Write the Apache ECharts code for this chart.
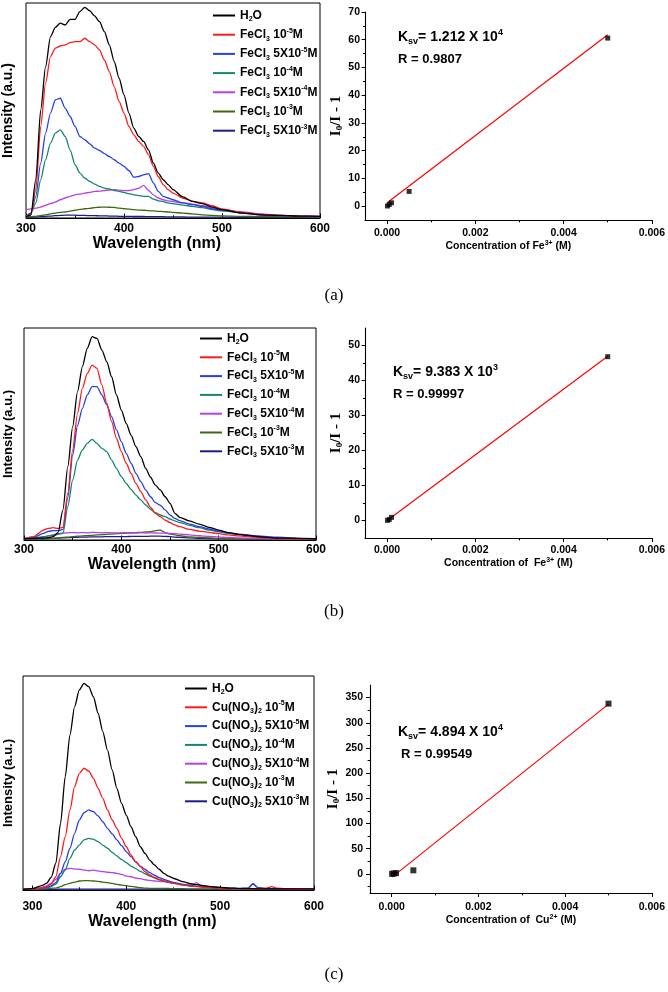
<!DOCTYPE html>
<html><head><meta charset="utf-8">
<script src="https://cdn.jsdelivr.net/npm/echarts@6/dist/echarts.min.js"></script>
<style>html,body{margin:0;padding:0;background:#fff}#c{width:668px;height:992px}</style>
</head><body><div id="c"></div>
<script>
// ---------- DATA ----------
const wavelengthA = [300,305,310,315,320,325,330,335,340,345,350,355,360,365,370,375,380,385,390,395,400,405,410,415,420,425,430,435,440,445,450,460,470,480,490,500,520,540,560,580,600];
const aH2O   = [0.5,1.5,17.8,50.3,70.4,84.4,88.7,90.6,89.8,92.4,92.4,96.0,98.0,96.4,94.0,91.3,86.7,80.5,72.8,65.0,57.3,48.8,41.8,37.9,35.6,31.7,25.5,20.9,17.8,15.5,13.2,9.8,7.7,6.7,5.1,3.9,2.3,1.5,1.2,0.9,0.8];
const aFe1e5 = [0.5,1.5,13.2,42.6,62.7,75.1,79.0,80.0,80.5,81.6,82.0,82.0,83.6,82.0,80.5,78.2,73.5,68.1,61.1,54.2,48.8,42.6,38.7,35.6,33.3,29.4,24.0,19.3,15.5,13.2,11.6,9.3,7.7,7.0,5.7,4.2,2.6,1.7,1.2,0.9,0.8];
const aFe5e5 = [0.5,2.3,10.1,25.5,39.5,48.8,55.0,55.7,51.1,47.2,42.6,37.9,36.4,34.5,32.5,31.4,29.9,28.6,27.1,25.5,24.0,22.1,19.0,19.3,20.1,20.6,16.3,12.4,10.1,9.3,8.5,7.0,6.2,5.4,4.2,3.6,2.6,1.5,1.1,0.8,0.6];
const aFe1e4 = [0.8,2.3,7.0,17.8,27.1,34.8,39.5,41.0,37.9,31.7,24.8,20.9,18.6,17.0,15.8,14.7,13.9,13.5,12.8,12.4,11.9,11.3,10.8,10.4,10.1,10.1,8.8,8.0,7.6,7.0,6.7,6.0,5.4,4.8,3.9,3.3,2.3,1.5,1.1,0.8,0.6];
const aFe5e4 = [3.9,4.2,4.6,5.1,5.9,6.7,7.4,8.5,9.3,10.1,10.8,11.1,11.6,11.9,12.4,12.5,12.8,13.0,13.2,13.0,12.7,12.8,13.2,13.9,15.2,12.8,10.8,9.3,8.5,8.0,7.6,7.0,6.5,5.7,4.6,3.9,2.8,1.9,1.2,0.9,0.8];
const aFe1e3 = [0.5,0.6,0.8,1.1,1.5,1.9,2.3,2.6,2.8,3.2,3.6,4.0,4.3,4.5,4.8,5.0,5.1,5.0,4.9,4.6,4.3,4.1,3.9,3.7,3.6,3.4,3.3,3.1,3.0,2.8,2.6,2.3,1.9,1.5,1.2,1.0,0.8,0.6,0.6,0.5,0.5];
const aFe5e3 = [0.3,0.4,0.5,0.6,0.8,0.9,1.1,1.2,1.3,1.3,1.3,1.2,1.2,1.1,1.1,1.0,1.0,0.9,0.9,0.8,0.8,0.8,0.7,0.7,0.7,0.6,0.6,0.6,0.6,0.5,0.5,0.5,0.4,0.4,0.4,0.4,0.3,0.3,0.3,0.3,0.3];

const wavelengthB = [300,310,320,325,330,335,340,345,350,355,360,365,370,375,380,385,390,395,400,405,410,415,420,425,430,435,440,445,450,455,460,470,480,490,500,510,520,540,560,580,600];
const bH2O   = [0.6,0.8,0.9,1.1,1.6,3.5,14.2,34.6,53.5,70.0,81.8,90.4,95.9,95.1,89.6,84.1,77.0,68.4,61.3,55.0,49.5,44.0,39.3,33.8,29.6,25.9,23.6,20.4,17.3,12.6,10.7,9.0,7.5,6.0,4.7,3.5,2.7,1.6,0.9,0.8,0.6];
const bFe1e5 = [0.6,1.6,4.7,5.5,5.8,5.5,6.0,22.0,42.5,59.7,71.5,78.6,82.5,81.0,73.1,64.5,55.8,48.0,41.7,36.2,31.4,26.7,22.8,18.9,15.4,12.6,11.0,9.4,8.2,7.1,6.3,5.0,4.2,3.6,3.0,2.4,1.9,1.3,0.8,0.6,0.5];
const bFe5e5 = [0.6,1.3,3.1,4.1,4.4,4.4,5.0,20.0,40.0,54.0,62.1,68.4,72.3,72.3,68.4,63.7,58.2,51.9,46.4,40.9,36.2,31.4,27.5,23.6,20.4,17.6,16.4,14.2,11.8,10.2,9.1,7.5,6.3,5.2,4.2,3.5,2.8,1.9,1.3,0.9,0.6];
const bFe1e4 = [0.6,0.9,1.6,1.9,2.2,2.7,3.1,15.7,28.3,37.7,42.5,45.6,47.5,45.6,43.2,41.7,37.7,33.8,29.9,26.7,23.9,21.2,18.9,16.5,14.5,12.9,11.8,11.0,9.9,9.0,8.2,6.9,5.8,4.7,3.9,3.1,2.5,1.7,1.1,0.8,0.6];
const bFe5e4 = [0.6,0.9,1.3,1.9,2.5,3.0,3.3,3.4,3.5,3.4,3.5,3.4,3.6,3.5,3.4,3.5,3.4,3.3,3.4,3.5,3.4,3.3,3.4,3.3,3.4,3.3,3.2,3.3,3.1,3.0,2.8,2.4,2.0,1.7,1.4,1.2,1.0,0.8,0.6,0.5,0.4];
const bFe1e3 = [0.4,0.5,0.6,0.7,0.8,1.0,1.2,1.4,1.6,1.8,1.9,2.1,2.2,2.4,2.5,2.7,2.8,3.0,3.1,3.2,3.3,3.5,3.6,3.8,3.9,4.4,4.7,3.5,2.8,2.4,2.0,1.5,1.2,1.0,0.8,0.6,0.5,0.5,0.4,0.4,0.4];
const bFe5e3 = [0.4,0.5,0.6,0.7,0.8,0.9,1.0,1.1,1.2,1.3,1.4,1.4,1.5,1.5,1.5,1.6,1.6,1.6,1.6,1.6,1.7,1.7,1.7,1.7,1.8,1.8,1.8,1.7,1.6,1.4,1.2,1.0,0.8,0.7,0.6,0.5,0.5,0.4,0.3,0.3,0.3];

const wavelengthC = [290,300,310,315,320,325,330,335,340,345,350,355,360,365,370,375,380,385,390,395,400,405,410,415,420,425,430,435,440,445,450,460,470,475,480,490,500,510,520,530,535,540,550,555,560,570,580,590,600];
const cH2O   = [0.3,0.6,2.0,3.1,5.9,12.5,31.2,53.0,72.4,85.7,93.5,96.6,95.0,90.3,82.6,74.0,65.4,56.1,47.5,40.5,35.0,29.6,24.9,20.2,17.1,14.0,11.7,9.7,7.8,6.5,5.5,3.9,2.8,2.5,2.2,1.6,1.2,0.9,0.8,0.6,0.6,0.5,0.5,0.5,0.5,0.5,0.5,0.5,0.5];
const cCu1e5 = [0.3,0.5,0.9,1.6,2.8,6.2,15.6,24.9,37.4,48.3,54.5,56.9,55.6,52.2,47.5,42.8,37.4,32.7,28.8,24.1,20.2,16.4,13.2,10.9,8.6,7.0,5.9,5.0,4.2,3.6,3.1,2.3,1.7,1.6,1.4,1.1,0.8,0.6,0.6,0.5,0.5,0.5,0.9,1.6,0.9,0.5,0.3,0.3,0.3];
const cCu5e5 = [0.3,0.5,0.8,1.2,1.9,3.4,7.8,13.2,19.5,26.5,32.7,36.1,37.4,36.6,34.6,31.9,28.8,26.2,23.4,20.7,17.9,15.6,13.2,11.2,9.7,8.1,6.9,5.8,5.0,4.2,3.6,2.6,2.0,1.7,1.6,1.2,0.9,0.8,0.6,0.9,2.8,1.1,0.6,0.5,0.5,0.5,0.4,0.3,0.3];
const cCu1e4 = [0.3,0.5,0.6,0.9,1.6,2.8,6.2,9.3,14.8,18.7,21.0,23.4,24.1,23.7,22.6,21.0,19.5,17.6,15.9,14.3,12.8,11.2,10.0,8.7,7.6,6.5,5.6,4.8,4.2,3.7,3.3,2.5,1.9,1.7,1.6,1.2,0.9,0.8,0.6,0.9,3.1,1.2,0.6,0.5,0.5,0.5,0.4,0.3,0.3];
const cCu5e4 = [0.3,0.6,1.2,1.9,3.1,5.0,7.8,9.7,10.1,9.8,9.7,9.3,9.0,9.3,8.9,8.6,8.3,8.1,7.8,7.3,6.5,6.2,5.6,5.3,4.8,4.5,4.2,4.0,3.9,3.6,3.3,2.6,2.2,3.4,1.7,1.2,0.9,0.8,0.6,0.5,0.5,0.5,0.5,0.5,0.5,0.5,0.4,0.4,0.3];
const cCu1e3 = [0.3,0.3,0.5,0.6,0.8,0.9,1.6,2.5,3.1,3.7,4.2,4.4,4.4,4.2,4.0,3.7,3.4,3.1,2.6,2.3,2.0,1.7,1.4,1.1,0.9,0.8,0.8,0.8,0.7,0.7,0.6,0.6,0.5,0.5,0.5,0.5,0.5,0.4,0.4,0.4,0.4,0.4,0.4,0.4,0.4,0.3,0.3,0.3,0.3];
const cCu5e3 = [0.3,0.3,0.3,0.3,0.3,0.3,0.4,0.4,0.4,0.4,0.4,0.4,0.4,0.4,0.4,0.4,0.4,0.4,0.4,0.4,0.4,0.4,0.4,0.4,0.4,0.4,0.4,0.4,0.4,0.3,0.3,0.3,0.3,0.3,0.3,0.3,0.3,0.3,0.3,0.3,0.3,0.3,0.3,0.3,0.3,0.3,0.3,0.3,0.3];

const namesFe = ['H_{2}O','FeCl_{3} 10^{-5}M','FeCl_{3} 5X10^{-5}M','FeCl_{3} 10^{-4}M','FeCl_{3} 5X10^{-4}M','FeCl_{3} 10^{-3}M','FeCl_{3} 5X10^{-3}M'];
const namesCu = ['H_{2}O','Cu(NO_{3})_{2} 10^{-5}M','Cu(NO_{3})_{2} 5X10^{-5}M','Cu(NO_{3})_{2} 10^{-4}M','Cu(NO_{3})_{2} 5X10^{-4}M','Cu(NO_{3})_{2} 10^{-3}M','Cu(NO_{3})_{2} 5X10^{-3}M'];
const seriesColors = ['#000000','#ff1a1a','#2442e6','#13866f','#b840e6','#3d6a10','#1c1c8e'];

// Stern-Volmer data
const concA = [0.00001,0.00005,0.0001,0.0005,0.005];
const quenchA = [0.05,0.6,1.2,5.3,60.6];
const fitAx = [0.00001,0.005];
const fitAy = [1.3,61.8];
const concB = [0.00001,0.00005,0.0001,0.005];
const quenchB = [0.05,0.3,0.9,46.8];
const fitBx = [0.00001,0.005];
const fitBy = [0.1,46.9];
const concC = [0.00001,0.00005,0.0001,0.0005,0.005];
const quenchC = [0.0,0.8,1.5,7.0,338];
const fitCx = [0.00001,0.005];
const fitCy = [-6.5,337];

const wlTicks = [300,400,500,600];
const wlMinor = [350,450,550];
const concTicks = [0,0.002,0.004,0.006];
const concMinor = [0.001,0.003,0.005];
const yTicksA = [0,10,20,30,40,50,60,70];
const yMinorA = [5,15,25,35,45,55,65];
const yTicksB = [0,10,20,30,40,50];
const yMinorB = [5,15,25,35,45];
const yTicksC = [0,50,100,150,200,250,300,350];
const yMinorC = [-25,25,75,125,175,225,275,325];

// ---------- CHART ----------
const SANS = 'Liberation Sans, Arial, sans-serif';
const SERIF = 'Liberation Serif, Times New Roman, serif';
function toRich(s, base) {
  return ('{' + base + '|' + s.replace(/_\{([^}]*)\}/g, '}{sub|$1}{' + base + '|').replace(/\^\{([^}]*)\}/g, '}{sup|$1}{' + base + '|') + '}').replace(new RegExp('\\{' + base + '\\|\\}', 'g'), '');
}
function richSet(size, lh, family) {
  const f = family || SANS;
  return {
    t: {fontFamily: f, fontWeight: 'bold', fontSize: size, lineHeight: lh, color: '#000'},
    sub: {fontFamily: f, fontWeight: 'bold', fontSize: Math.round(size * 0.62), lineHeight: Math.round(size * 0.62), verticalAlign: 'bottom', color: '#000'},
    sup: {fontFamily: f, fontWeight: 'bold', fontSize: Math.round(size * 0.62), lineHeight: Math.round(size * 0.62), verticalAlign: 'top', color: '#000'}
  };
}

const grids = [
  {left: 26, top: 3, width: 294, height: 215},
  {left: 24, top: 328, width: 292, height: 212},
  {left: 23, top: 676, width: 291, height: 214},
  {left: 365, top: 12, width: 288, height: 208},
  {left: 365, top: 328, width: 288, height: 210},
  {left: 370, top: 685, width: 285, height: 208}
].map((g, i) => Object.assign(g, i < 3 ? {show: true, borderColor: '#000', borderWidth: 1, backgroundColor: 'transparent'} : {}));

function mkX(gi, min, max, ticks, minor, o) {
  const main = {
    type: 'value', gridIndex: gi, min: min, max: max, position: 'bottom',
    axisLine: {show: true, onZero: false, lineStyle: {color: '#000', width: 1.1}},
    axisTick: {show: true, inside: o.inside, length: o.tl, customValues: ticks, lineStyle: {color: '#000'}},
    axisLabel: {show: true, customValues: ticks, margin: o.margin, color: '#000', fontFamily: SANS, fontWeight: 'bold', fontSize: o.fs, formatter: o.fmt, showMinLabel: true, showMaxLabel: true},
    splitLine: {show: false},
    name: o.name, nameLocation: 'middle', nameGap: o.nameGap,
    nameTextStyle: {color: '#000', fontFamily: o.nameFont || SANS, fontWeight: 'bold', fontSize: o.nameSize, padding: o.namePad || 0, rich: o.nameRich}
  };
  const mnr = {
    type: 'value', gridIndex: gi, min: min, max: max, position: 'bottom',
    axisLine: {show: false, onZero: false},
    axisTick: {show: true, inside: o.inside, length: o.tl * 0.6, customValues: minor, lineStyle: {color: '#000'}},
    axisLabel: {show: false}, splitLine: {show: false}
  };
  return [main, mnr];
}
const fmtConc = v => Number(v).toFixed(3);
const fmtWl = v => String(Math.round(v));

const xAxes = [].concat(
  mkX(0, 300, 600, wlTicks, wlMinor, {inside: true, tl: 4.5, margin: 5, fs: 12, fmt: fmtWl, name: 'Wavelength (nm)', nameGap: 14, nameSize: 16, namePad: [0, 32, 0, 0]}),
  mkX(1, 300, 600, wlTicks, wlMinor, {inside: true, tl: 4.5, margin: 4, fs: 12, fmt: fmtWl, name: 'Wavelength (nm)', nameGap: 15, nameSize: 16, namePad: [0, 36, 0, 0]}),
  mkX(2, 290, 600, wlTicks, wlMinor, {inside: true, tl: 4.5, margin: 11, fs: 12, fmt: fmtWl, name: 'Wavelength (nm)', nameGap: 22, nameSize: 16, namePad: [0, 32, 0, 0]}),
  mkX(3, -0.0005, 0.006, concTicks, concMinor, {inside: false, tl: 4, margin: 8, fs: 10.5, fmt: fmtConc, name: toRich('Concentration of Fe^{3+} (M)', 't'), nameGap: 19, nameSize: 10.5, nameRich: richSet(10.5, 13)}),
  mkX(4, -0.0005, 0.006, concTicks, concMinor, {inside: false, tl: 4, margin: 7, fs: 10.5, fmt: fmtConc, name: toRich('Concentration of  Fe^{3+} (M)', 't'), nameGap: 18, nameSize: 10.5, nameRich: richSet(10.5, 13)}),
  mkX(5, -0.0005, 0.006, concTicks, concMinor, {inside: false, tl: 4, margin: 9, fs: 10.5, fmt: fmtConc, name: toRich('Concentration of  Cu^{2+} (M)', 't'), nameGap: 20, nameSize: 10.5, nameRich: richSet(10.5, 13)})
);

function leftY(gi, gap, fs) {
  return {
    type: 'value', gridIndex: gi, min: 0, max: 100, position: 'left',
    axisLine: {show: false}, axisTick: {show: false}, axisLabel: {show: false}, splitLine: {show: false},
    name: 'Intensity (a.u.)', nameLocation: 'middle', nameGap: gap,
    nameTextStyle: {color: '#000', fontFamily: SANS, fontWeight: 'bold', fontSize: fs}
  };
}
function rightY(gi, min, max, ticks, minor, margin, gap, tl) {
  const yName = '{t|I}{sub|0}{t|/I - 1}';
  return [{
    type: 'value', gridIndex: gi, min: min, max: max, position: 'left',
    axisLine: {show: true, onZero: false, lineStyle: {color: '#000', width: 1.1}},
    axisTick: {show: true, inside: false, length: tl, customValues: ticks, lineStyle: {color: '#000'}},
    axisLabel: {show: true, customValues: ticks, margin: margin, color: '#000', fontFamily: SANS, fontWeight: 'bold', fontSize: 10.5},
    splitLine: {show: false},
    name: yName, nameLocation: 'middle', nameGap: gap,
    nameTextStyle: {color: '#000', rich: richSet(15, 17, SERIF)}
  }, {
    type: 'value', gridIndex: gi, min: min, max: max, position: 'left',
    axisLine: {show: false, onZero: false},
    axisTick: {show: true, inside: false, length: tl * 0.6, customValues: minor, lineStyle: {color: '#000'}},
    axisLabel: {show: false}, splitLine: {show: false}
  }];
}
const yAxes = [leftY(0, 11, 14), leftY(1, 9, 13), leftY(2, 8, 13)].concat(
  rightY(3, -5, 70, yTicksA, yMinorA, 5, 17, 3.5),
  rightY(4, -5, 55, yTicksB, yMinorB, 5, 20, 3.5),
  rightY(5, -38, 375, yTicksC, yMinorC, 7, 24, 4)
);

const series = [];
function addSpectra(xi, yi, wl, arrs, names) {
  arrs.forEach((arr, k) => {
    series.push({
      type: 'line', name: names[k], xAxisIndex: xi, yAxisIndex: yi,
      data: wl.map((x, j) => [x, arr[j]]),
      showSymbol: false, symbol: 'none', smooth: 0.25, smoothMonotone: 'x',
      lineStyle: {color: seriesColors[k], width: 1.3}, itemStyle: {color: seriesColors[k]},
      silent: true, z: 10 - k
    });
  });
}
addSpectra(0, 0, wavelengthA, [aH2O, aFe1e5, aFe5e5, aFe1e4, aFe5e4, aFe1e3, aFe5e3], namesFe);
addSpectra(2, 1, wavelengthB, [bH2O, bFe1e5, bFe5e5, bFe1e4, bFe5e4, bFe1e3, bFe5e3], namesFe);
addSpectra(4, 2, wavelengthC, [cH2O, cCu1e5, cCu5e5, cCu1e4, cCu5e4, cCu1e3, cCu5e3], namesCu);

function addSV(xi, yi, cx, cy, fx, fy, size) {
  series.push({
    type: 'line', name: 'fit' + xi, xAxisIndex: xi, yAxisIndex: yi,
    data: fx.map((x, j) => [x, fy[j]]), showSymbol: false, symbol: 'none',
    lineStyle: {color: '#ff0000', width: 1.2}, silent: true, z: 3
  });
  series.push({
    type: 'scatter', name: 'pts' + xi, xAxisIndex: xi, yAxisIndex: yi,
    data: cx.map((x, j) => [x, cy[j]]), symbol: 'rect', symbolSize: size,
    itemStyle: {color: '#000'}, silent: true, z: 4
  });
}
addSV(6, 3, concA, quenchA, fitAx, fitAy, 5);
addSV(8, 5, concB, quenchB, fitBx, fitBy, 5);
addSV(10, 7, concC, quenchC, fitCx, fitCy, 6);

function mkLegend(names, left, top, gap) {
  return {
    orient: 'vertical', left: left, top: top, itemWidth: 22, itemHeight: 2, icon: 'rect',
    itemGap: gap, selectedMode: false, data: names, padding: 0,
    formatter: n => toRich(n, 't'),
    textStyle: {color: '#000', rich: richSet(12, 15)}
  };
}

const legends = [
  mkLegend(namesFe, 213, 9.5, 4.2),
  mkLegend(namesFe, 200, 332.5, 3.8),
  mkLegend(namesCu, 185, 682.5, 3.8)
];

function annot(x, y, text, size) {
  return {type: 'text', x: x, y: y, silent: true, style: {text: text, verticalAlign: 'middle', align: 'left', rich: richSet(size, size + 4), fill: '#000'}};
}
const graphics = [
  annot(398, 37, '{t|K}{sub|sv}{t|= 1.212 X 10}{sup|4}', 14),
  annot(398, 59, '{t|R = 0.9807}', 13),
  annot(393, 372, '{t|K}{sub|sv}{t|= 9.383 X 10}{sup|3}', 14),
  annot(393, 394, '{t|R = 0.99997}', 13),
  annot(398, 732, '{t|K}{sub|sv}{t|= 4.894 X 10}{sup|4}', 14),
  annot(401, 754, '{t|R = 0.99549}', 13),
  {type: 'text', x: 334, y: 296, silent: true, style: {text: '(a)', align: 'center', verticalAlign: 'middle', fontFamily: SERIF, fontSize: 17, fill: '#000'}},
  {type: 'text', x: 334, y: 612, silent: true, style: {text: '(b)', align: 'center', verticalAlign: 'middle', fontFamily: SERIF, fontSize: 17, fill: '#000'}},
  {type: 'text', x: 334, y: 975, silent: true, style: {text: '(c)', align: 'center', verticalAlign: 'middle', fontFamily: SERIF, fontSize: 17, fill: '#000'}}
];

const chart = echarts.init(document.getElementById('c'), null, {renderer: 'canvas'});
chart.setOption({
  animation: false,
  backgroundColor: '#fff',
  grid: grids,
  xAxis: xAxes,
  yAxis: yAxes,
  legend: legends,
  graphic: graphics,
  series: series
});
</script></body></html>
